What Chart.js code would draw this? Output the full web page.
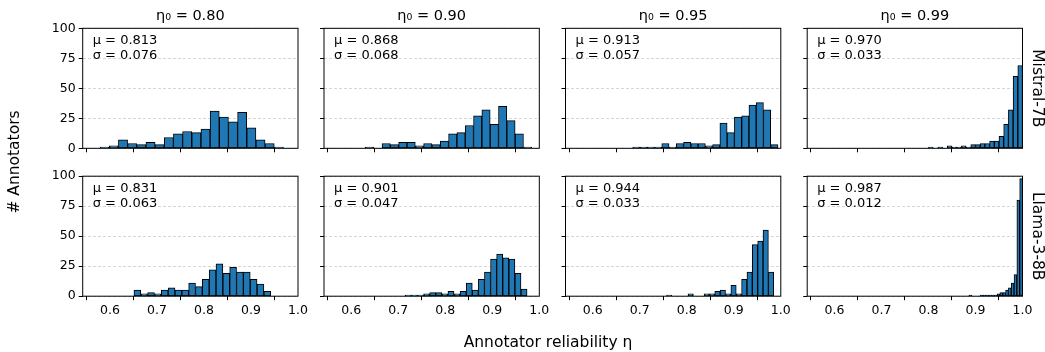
<!DOCTYPE html>
<html><head><meta charset="utf-8">
<script src="https://cdn.jsdelivr.net/npm/chart.js@4/dist/chart.umd.min.js"></script>
<style>
html,body{margin:0;padding:0;background:#fff;}
#wrap{position:relative;width:1045px;height:352px;overflow:hidden;background:#fff;}
#wrap canvas{position:absolute;left:0;top:0;}
</style></head>
<body><div id="wrap"></div>
<script>
// ---------------- data ----------------
const columnEtas = ['0.80', '0.90', '0.95', '0.99'];
const rowModels = ['Mistral-7B', 'Llama-3-8B'];
const xTickValues = [0.6, 0.7, 0.8, 0.9, 1.0];
const yTickValues = [0, 25, 50, 75, 100];
const xLimits = [0.542, 1.0];
const yLimits = [0, 100];

// histogram counts (20 bins each) and bin range [first edge, last edge]
const mistral080 = [1, 2, 7, 4, 3, 5, 3, 9, 12, 14, 13, 16, 31, 26, 22, 30, 17, 7, 4, 1];
const mistral080Range = [0.579, 0.969];
const mistral090 = [1, 0, 4, 3, 5, 5, 2, 4, 3, 6, 12, 13, 19, 27, 32, 20, 35, 23, 12, 1];
const mistral090Range = [0.630, 0.984];
const mistral095 = [1, 1, 1, 1, 4, 1, 4, 5, 4, 4, 2, 3, 21, 13, 26, 27, 36, 38, 32, 3];
const mistral095Range = [0.685, 0.994];
const mistral099 = [1, 0, 1, 0, 2, 1, 1, 2, 1, 3, 3, 4, 4, 6, 6, 10, 20, 32, 60, 69];
const mistral099Range = [0.800, 1.000];

const llama080 = [5, 2, 3, 2, 5, 7, 5, 5, 11, 8, 14, 22, 27, 19, 24, 20, 20, 14, 10, 4];
const llama080Range = [0.651, 0.942];
const llama090 = [1, 1, 1, 2, 3, 3, 2, 4, 2, 4, 11, 5, 14, 20, 31, 35, 32, 31, 19, 6];
const llama090Range = [0.715, 0.974];
const llama095 = [1, 0, 0, 0, 2, 0, 0, 2, 2, 4, 5, 2, 9, 2, 14, 20, 43, 46, 55, 20];
const llama095Range = [0.757, 0.985];
const llama099 = [0, 1, 0, 0, 0, 1, 1, 1, 1, 1, 1, 2, 3, 3, 5, 7, 11, 18, 80, 98];
const llama099Range = [0.880, 1.000];

const mistralMu = ['0.813', '0.868', '0.913', '0.970'];
const mistralSigma = ['0.076', '0.068', '0.057', '0.033'];
const llamaMu = ['0.831', '0.901', '0.944', '0.987'];
const llamaSigma = ['0.063', '0.047', '0.033', '0.012'];

// ---------------- layout ----------------
const FONT = 'DejaVu Sans';
Chart.defaults.font.family = FONT;
Chart.defaults.color = '#000';
const W = 1045, H = 352;
const COL_L = [82.7, 324, 565.5, 807.2];
const PW = 215.3;
const ROW_T = [28.3, 176.2];
const PH = 120;
const Y_AXIS_W = 40, X_AXIS_H = 30;

const panels = [
  [[mistral080, mistral080Range], [mistral090, mistral090Range], [mistral095, mistral095Range], [mistral099, mistral099Range]],
  [[llama080, llama080Range], [llama090, llama090Range], [llama095, llama095Range], [llama099, llama099Range]]
];
const stats = [[mistralMu, mistralSigma], [llamaMu, llamaSigma]];

const wrap = document.getElementById('wrap');

for (let r = 0; r < 2; r++) {
  for (let c = 0; c < 4; c++) {
    const [counts, range] = panels[r][c];
    const n = counts.length;
    const bw = (range[1] - range[0]) / n;
    const pts = counts.map((v, i) => ({x: range[0] + (i + 0.5) * bw, y: v}));
    const L = COL_L[c], T = ROW_T[r];
    const cv = document.createElement('canvas');
    cv.width = W; cv.height = H;
    cv.style.width = W + 'px'; cv.style.height = H + 'px';
    wrap.appendChild(cv);

    const deco = {
      id: 'deco' + r + c,
      afterDraw(chart) {
        const ctx = chart.ctx;
        const a = chart.chartArea;
        ctx.save();
        // spines
        ctx.strokeStyle = '#000';
        ctx.lineWidth = 1;
        ctx.strokeRect(a.left, a.top, a.right - a.left, a.bottom - a.top);
        // mu / sigma text
        ctx.fillStyle = '#000';
        ctx.font = '13px ' + FONT;
        ctx.textAlign = 'left';
        ctx.textBaseline = 'alphabetic';
        ctx.fillText('μ = ' + stats[r][0][c], a.left + 10, a.top + 16);
        ctx.fillText('σ = ' + stats[r][1][c], a.left + 10, a.top + 30.7);
        // column titles
        if (r === 0) {
          ctx.font = '14.5px ' + FONT;
          ctx.textAlign = 'center';
          ctx.fillText('η₀ = ' + columnEtas[c], (a.left + a.right) / 2, 20);
        }
        // row labels
        if (c === 3) {
          ctx.save();
          ctx.translate(1037, (a.top + a.bottom) / 2);
          ctx.rotate(Math.PI / 2);
          ctx.font = '15.5px ' + FONT;
          ctx.textAlign = 'center';
          ctx.textBaseline = 'middle';
          ctx.fillText(rowModels[r], 0, 0);
          ctx.restore();
        }
        // global axis labels
        if (r === 0 && c === 0) {
          ctx.font = '15.5px ' + FONT;
          ctx.textAlign = 'center';
          ctx.textBaseline = 'middle';
          ctx.fillText('Annotator reliability η', 548, 343);
          ctx.save();
          ctx.translate(15, 162);
          ctx.rotate(-Math.PI / 2);
          ctx.fillText('# Annotators', 0, 0);
          ctx.restore();
        }
        ctx.restore();
      }
    };

    new Chart(cv, {
      type: 'bar',
      data: {
        datasets: [{
          data: pts,
          backgroundColor: '#1f77b4',
          borderColor: '#000000',
          borderWidth: 1,
          borderSkipped: false,
          barPercentage: 1.0,
          categoryPercentage: 1.0,
          grouped: false
        }]
      },
      options: {
        responsive: false,
        animation: false,
        devicePixelRatio: 1,
        events: [],
        layout: {
          autoPadding: false,
          padding: {
            left: L - Y_AXIS_W,
            top: T,
            right: W - (L + PW),
            bottom: H - (T + PH) - X_AXIS_H
          }
        },
        plugins: {legend: {display: false}, tooltip: {enabled: false}, title: {display: false}},
        scales: {
          x: {
            type: 'linear',
            min: xLimits[0], max: xLimits[1],
            offset: false,
            afterBuildTicks: s => { s.ticks = xTickValues.map(v => ({value: v})); },
            afterFit: s => { s.height = X_AXIS_H; s.paddingLeft = 0; s.paddingRight = 0; s.paddingTop = 0; s.paddingBottom = 0; },
            ticks: {
              display: r === 1,
              autoSkip: false, maxRotation: 0, minRotation: 0,
              padding: 3,
              font: {size: 12.5, family: FONT},
              color: '#000',
              callback: v => Number(v).toFixed(1)
            },
            grid: {display: true, drawOnChartArea: false, drawTicks: true, tickLength: 4, tickColor: '#000', tickWidth: 1},
            border: {display: false}
          },
          y: {
            min: yLimits[0], max: yLimits[1],
            afterBuildTicks: s => { s.ticks = yTickValues.map(v => ({value: v})); },
            afterFit: s => { s.width = Y_AXIS_W; s.paddingLeft = 0; s.paddingRight = 0; s.paddingTop = 0; s.paddingBottom = 0; },
            ticks: {
              display: c === 0,
              padding: 3,
              font: {size: 12.5, family: FONT},
              color: '#000'
            },
            grid: {display: true, drawOnChartArea: true, drawTicks: true, tickLength: 4, tickColor: '#000', tickWidth: 1,
                   color: 'rgba(0,0,0,0.2)', lineWidth: 0.8, borderDash: [3, 2]},
            border: {display: false, dash: [3, 2]}
          }
        }
      },
      plugins: [deco]
    });
  }
}
</script>
</body></html>
